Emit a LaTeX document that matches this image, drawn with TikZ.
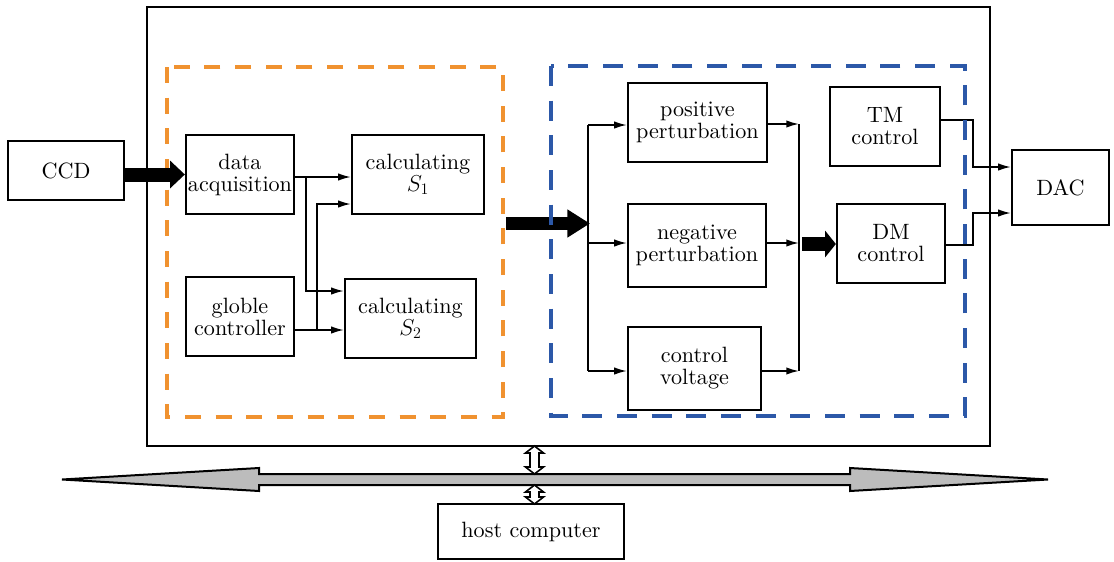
\documentclass[tikz,border=0pt]{standalone}
\usepackage{fontspec}
\usetikzlibrary{arrows.meta}
\newfontfamily\labelfont{lmroman10-regular}[Extension=.otf]
\definecolor{dashorange}{RGB}{240,146,48}
\definecolor{dashblue}{RGB}{44,88,168}
\definecolor{busgray}{RGB}{188,188,188}

% open double-headed vertical arrow: x, top y, bottom y
\newcommand\updown[3]{%
  \draw[line width=1.2pt, fill=white]
    (#1-4.5,#2+7) -- (#1-9,#2+7) -- (#1,#2) -- (#1+9,#2+7) -- (#1+4.5,#2+7)
    -- (#1+4.5,#3-7) -- (#1+9,#3-7) -- (#1,#3) -- (#1-9,#3-7) -- (#1-4.5,#3-7) -- cycle;}

\begin{document}
\begin{tikzpicture}[x=0.75pt,y=-0.75pt,
  every node/.style={font=\labelfont\fontsize{16.6}{16.5}\selectfont},
  blk/.style={draw, line width=1.7pt, inner sep=0pt, align=center},
  sz/.style 2 args={minimum width=#1*0.75pt, minimum height=#2*0.75pt},
  conn/.style={line width=1.2pt},
  arr/.style={conn, -{Latex[length=9.5pt,width=5.5pt]}},
  fat/.style={line width=10.5pt, -{Triangle[length=11pt,width=20pt]}},
  fatlong/.style={line width=10pt, -{Triangle[length=17pt,width=20pt]}},
  fatshort/.style={line width=10.5pt, -{Triangle[length=8pt,width=19.5pt]}},
  orangebox/.style={draw=dashorange, line width=3pt, dash pattern=on 12pt off 11pt},
  bluebox/.style={draw=dashblue, line width=3.5pt, dash pattern=on 15pt off 11pt}]
\useasboundingbox (0,0) rectangle (1114,561);

% enclosing controller box
\node[draw, line width=1.4pt, inner sep=0pt, sz={843}{439}] (main) at (568.5,226.5) {};

% preprocessing group
\draw[orangebox] (167,67) rectangle (503,417);

% blocks
\node[blk, sz={116}{59}]  (ccd)  at (66,170.5)    {CCD};
\node[blk, sz={108}{79}]  (da)   at (240,174.5)   {data\\acquisition};
\node[blk, sz={108}{79}]  (gc)   at (240,316.5)   {globle\\controller};
\node[blk, sz={132}{79}]  (s1)   at (418,174.5)   {calculating\\$S_{1}$};
\node[blk, sz={131}{79}]  (s2)   at (410.5,318.5) {calculating\\$S_{2}$};
\node[blk, sz={139}{79}]  (pp)   at (697.5,122.5) {positive\\perturbation};
\node[blk, sz={138}{83}]  (np)   at (697,245.5)   {negative\\perturbation};
\node[blk, sz={133}{83}]  (cv)   at (694.5,368.5) {control\\voltage};
\node[blk, sz={110}{79}]  (tm)   at (885,126.5)   {TM\\control};
\node[blk, sz={108}{79}]  (dm)   at (891,243.5)   {DM\\control};
\node[blk, sz={97}{75}]   (dac)  at (1060.5,187.5) {DAC};
\node[blk, sz={186}{55}]  (host) at (531,531.5)   {host computer};

% junction points
\coordinate (j1) at (306,177);
\coordinate (j1b) at (306,291);
\coordinate (j2) at (317,330);
\coordinate (j2b) at (317,204);
\coordinate (b1) at (588,125);
\coordinate (b2) at (588,243);
\coordinate (b3) at (588,371);
\coordinate (m1) at (799,124);
\coordinate (m2) at (799,243);
\coordinate (m3) at (799,371);
\coordinate (t1) at (973,120);
\coordinate (t2) at (973,167);
\coordinate (d1) at (973,245);
\coordinate (d2) at (973,213);
\coordinate (fin) at (506,223.5);
\coordinate (ftip) at (590,223.5);
\coordinate (dmfrom) at (802,244);

% thick data-flow arrows
\draw[fat] (ccd.east |- da.west) -- (da.west);
\draw[fatlong] (fin) -- (ftip);
\draw[fatshort] (dmfrom) -- (dmfrom -| dm.west);

% left group wiring
\draw[arr] (da.east |- j1) -- (s1.west |- j1);
\draw[arr] (j1) -- (j1b) -- (s2.west |- j1b);
\draw[arr] (gc.east |- j2) -- (s2.west |- j2);
\draw[arr] (j2) -- (j2b) -- (s1.west |- j2b);

% right group wiring
\draw[conn] (b1) -- (b3);
\draw[arr] (b1) -- (pp.west |- b1);
\draw[arr] (b2) -- (np.west |- b2);
\draw[arr] (b3) -- (cv.west |- b3);
\draw[conn] (m1) -- (m3);
\draw[arr] (pp.east |- m1) -- (m1);
\draw[arr] (np.east |- m2) -- (m2);
\draw[arr] (cv.east |- m3) -- (m3);

% outputs to DAC
\draw[arr] (tm.east |- t1) -- (t1) -- (t2) -- (dac.west |- t2);
\draw[arr] (dm.east |- d1) -- (d1) -- (d2) -- (dac.west |- d2);

% optimisation group
\draw[bluebox] (551,66) rectangle (965,416);

% system bus
\draw[line width=1.5pt, fill=busgray]
  (62,479.5) -- (259,468) -- (259,474) -- (850,474) -- (850,468) -- (1048,479.5)
  -- (850,491) -- (850,485) -- (259,485) -- (259,491) -- cycle;
\updown{534.5}{446}{474}
\updown{534.5}{485}{504}
\end{tikzpicture}
\end{document}
